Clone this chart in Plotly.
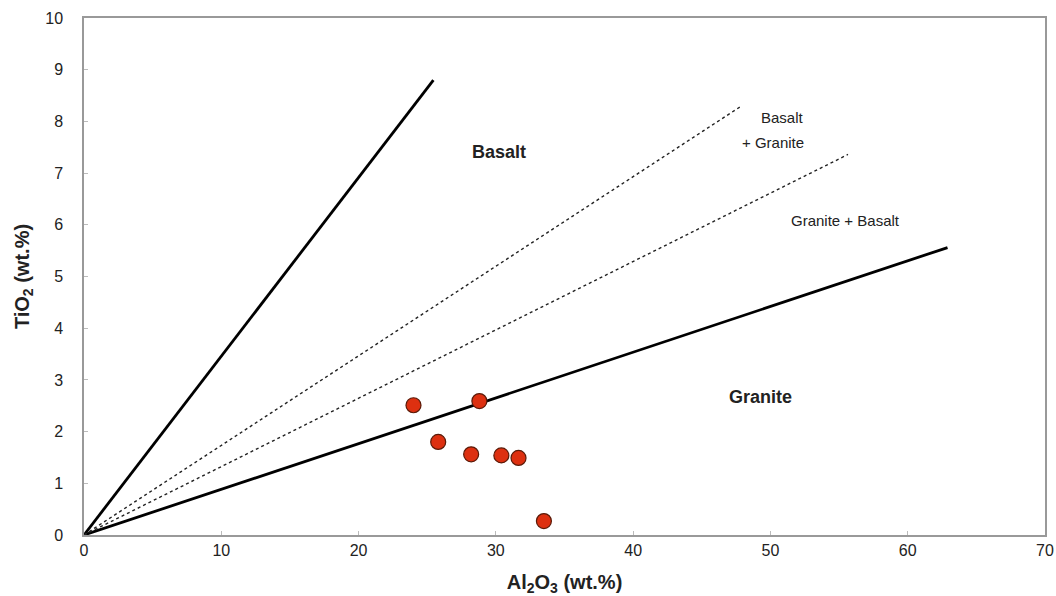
import plotly.graph_objects as go

# Sample data (Al2O3 vs TiO2, wt.%)
al2o3 = [24.0, 28.8, 25.8, 28.2, 30.4, 31.65, 33.5]
tio2 = [2.51, 2.59, 1.80, 1.56, 1.54, 1.49, 0.27]

# Discrimination lines: from origin to end points
solid_lines_x = [[0, 25.45], [0, 62.9]]
solid_lines_y = [[0, 8.8], [0, 5.56]]
dotted_lines_x = [[0, 47.9], [0, 55.65]]
dotted_lines_y = [[0, 8.3], [0, 7.36]]

x_ticks = [0, 10, 20, 30, 40, 50, 60, 70]
y_ticks = [0, 1, 2, 3, 4, 5, 6, 7, 8, 9, 10]

FONT = "Liberation Sans, Arial, Helvetica"

fig = go.Figure()
for xs, ys in zip(solid_lines_x, solid_lines_y):
    fig.add_trace(go.Scatter(x=xs, y=ys, mode="lines",
                             line=dict(color="black", width=2.8),
                             showlegend=False, hoverinfo="skip"))
for xs, ys in zip(dotted_lines_x, dotted_lines_y):
    fig.add_trace(go.Scatter(x=xs, y=ys, mode="lines",
                             line=dict(color="#222", width=1.4, dash="dot"),
                             showlegend=False, hoverinfo="skip"))

fig.add_trace(go.Scatter(x=al2o3, y=tio2, mode="markers",
                         marker=dict(size=15, color="#dd3010",
                                     line=dict(color="#5a1a08", width=1.2)),
                         showlegend=False))

fig.add_annotation(x=30.2, y=7.41, text="<b>Basalt</b>", showarrow=False,
                   font=dict(family=FONT, size=18, color="#222"))
fig.add_annotation(x=49.3, y=2.67, text="<b>Granite</b>", showarrow=False,
                   font=dict(family=FONT, size=18, color="#222"))
fig.add_annotation(x=52.6, y=8.08, text="Basalt", showarrow=False,
                   xanchor="right", font=dict(family=FONT, size=15, color="#222"))
fig.add_annotation(x=52.6, y=7.60, text="+ Granite", showarrow=False,
                   xanchor="right", font=dict(family=FONT, size=15, color="#222"))
fig.add_annotation(x=55.5, y=6.09, text="Granite + Basalt", showarrow=False,
                   font=dict(family=FONT, size=15, color="#222"))

axis_common = dict(showgrid=False, zeroline=False, showline=True,
                   linecolor="#999", linewidth=1.5, mirror=True,
                   ticks="inside", ticklen=4, tickcolor="#bbb",
                   automargin=False,
                   tickfont=dict(family=FONT, size=16, color="#222"))

fig.update_xaxes(range=[0, 70], tickvals=x_ticks,
                 title=dict(text="<b>Al<sub>2</sub>O<sub>3</sub> (wt.%)</b>",
                            font=dict(family=FONT, size=20, color="#222"),
                            standoff=18),
                 **axis_common)
fig.update_yaxes(range=[0, 10], tickvals=y_ticks, ticklabelstandoff=16,
                 title=dict(text="<b>TiO<sub>2</sub> (wt.%)</b>",
                            font=dict(family=FONT, size=20, color="#222"),
                            standoff=10),
                 **axis_common)

fig.update_layout(width=1056, height=596,
                  margin=dict(l=84, r=11, t=18, b=61),
                  plot_bgcolor="white", paper_bgcolor="white",
                  font=dict(family=FONT))

fig.write_html("out.html", config={"displayModeBar": False},
               post_script="document.body.style.margin='0';document.body.style.overflow='hidden';")
